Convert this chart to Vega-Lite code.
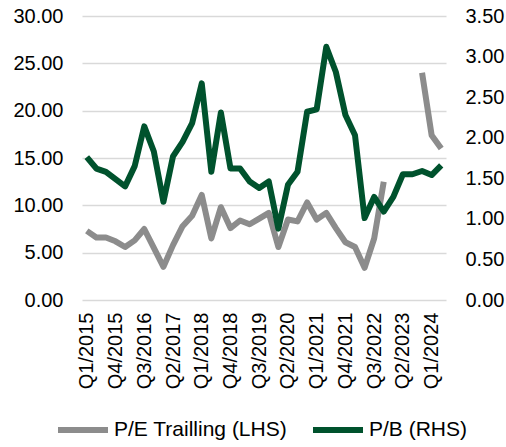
{
  "$schema": "https://vega.github.io/schema/vega-lite/v6.json",
  "width": 364,
  "height": 284,
  "autosize": {"type": "none"},
  "padding": {"left": 82, "top": 16, "right": 60, "bottom": 147},
  "background": "white",
  "config": {
    "view": {"stroke": null},
    "font": "Liberation Sans",
    "axis": {"labelFont": "Liberation Sans", "labelFontSize": 20, "labelColor": "#000000", "ticks": false, "tickSize": 0, "domain": false}
  },
  "data": {
    "values": [
      {"q": "Q1/2015", "pe": 7.3, "pb": 1.76},
      {"q": "Q2/2015", "pe": 6.6, "pb": 1.62},
      {"q": "Q3/2015", "pe": 6.6, "pb": 1.58},
      {"q": "Q4/2015", "pe": 6.2, "pb": 1.49},
      {"q": "Q1/2016", "pe": 5.6, "pb": 1.40},
      {"q": "Q2/2016", "pe": 6.3, "pb": 1.65},
      {"q": "Q3/2016", "pe": 7.5, "pb": 2.14},
      {"q": "Q4/2016", "pe": 5.5, "pb": 1.83},
      {"q": "Q1/2017", "pe": 3.5, "pb": 1.21},
      {"q": "Q2/2017", "pe": 5.8, "pb": 1.77},
      {"q": "Q3/2017", "pe": 7.8, "pb": 1.95},
      {"q": "Q4/2017", "pe": 8.9, "pb": 2.18},
      {"q": "Q1/2018", "pe": 11.1, "pb": 2.67},
      {"q": "Q2/2018", "pe": 6.5, "pb": 1.58},
      {"q": "Q3/2018", "pe": 9.8, "pb": 2.31},
      {"q": "Q4/2018", "pe": 7.6, "pb": 1.62},
      {"q": "Q1/2019", "pe": 8.4, "pb": 1.62},
      {"q": "Q2/2019", "pe": 8.0, "pb": 1.46},
      {"q": "Q3/2019", "pe": 8.6, "pb": 1.38},
      {"q": "Q4/2019", "pe": 9.2, "pb": 1.46},
      {"q": "Q1/2020", "pe": 5.6, "pb": 0.88},
      {"q": "Q2/2020", "pe": 8.5, "pb": 1.42},
      {"q": "Q3/2020", "pe": 8.3, "pb": 1.58},
      {"q": "Q4/2020", "pe": 10.3, "pb": 2.32},
      {"q": "Q1/2021", "pe": 8.5, "pb": 2.35},
      {"q": "Q2/2021", "pe": 9.2, "pb": 3.12},
      {"q": "Q3/2021", "pe": 7.6, "pb": 2.81},
      {"q": "Q4/2021", "pe": 6.1, "pb": 2.28},
      {"q": "Q1/2022", "pe": 5.6, "pb": 2.03},
      {"q": "Q2/2022", "pe": 3.4, "pb": 1.01},
      {"q": "Q3/2022", "pe": 6.5, "pb": 1.27},
      {"q": "Q4/2022", "pe": 12.5, "pb": 1.09},
      {"q": "Q1/2023", "pe": null, "pb": 1.27},
      {"q": "Q2/2023", "pe": null, "pb": 1.55},
      {"q": "Q3/2023", "pe": null, "pb": 1.55},
      {"q": "Q4/2023", "pe": 24.0, "pb": 1.59},
      {"q": "Q1/2024", "pe": 17.4, "pb": 1.54},
      {"q": "Q2/2024", "pe": 16.0, "pb": 1.66}
    ]
  },
  "encoding": {
    "x": {
      "field": "q",
      "type": "ordinal",
      "sort": null,
      "scale": {"type": "point", "padding": 0.5},
      "axis": {
        "title": null,
        "values": ["Q1/2015", "Q4/2015", "Q3/2016", "Q2/2017", "Q1/2018", "Q4/2018", "Q3/2019", "Q2/2020", "Q1/2021", "Q4/2021", "Q3/2022", "Q2/2023", "Q1/2024"],
        "labelAngle": 270,
        "labelPadding": 12,
        "grid": false
      }
    }
  },
  "layer": [
    {
      "transform": [{"calculate": "'P/E Trailling (LHS)'", "as": "series"}],
      "mark": {"type": "line", "strokeWidth": 6, "strokeJoin": "round", "strokeCap": "butt", "invalid": "break-paths-filter-domains"},
      "encoding": {
        "y": {
          "field": "pe",
          "type": "quantitative",
          "scale": {"domain": [0, 30], "nice": false, "zero": true},
          "axis": {"title": null, "values": [0, 5, 10, 15, 20, 25, 30], "format": ".2f", "labelPadding": 19, "grid": true, "gridColor": "#d9d9d9", "gridWidth": 1.5, "orient": "left"}
        },
        "color": {
          "field": "series",
          "type": "nominal",
          "scale": {"domain": ["P/E Trailling (LHS)", "P/B (RHS)"], "range": ["#8c8c8c", "#00522d"]},
          "legend": {
            "title": null,
            "orient": "none",
            "legendX": -27,
            "legendY": 386,
            "direction": "horizontal",
            "symbolType": "stroke",
            "symbolSize": 2500,
            "symbolStrokeWidth": 6,
            "labelFont": "Liberation Sans",
            "labelFontSize": 21,
            "labelColor": "#000000",
            "labelOffset": 3,
            "columnPadding": 13,
            "padding": 0,
            "labelLimit": 400
          }
        }
      }
    },
    {
      "transform": [{"calculate": "'P/B (RHS)'", "as": "series"}],
      "mark": {"type": "line", "strokeWidth": 6, "strokeJoin": "round", "strokeCap": "butt"},
      "encoding": {
        "y": {
          "field": "pb",
          "type": "quantitative",
          "scale": {"domain": [0, 3.5], "nice": false, "zero": true},
          "axis": {"title": null, "values": [0, 0.5, 1, 1.5, 2, 2.5, 3, 3.5], "format": ".2f", "labelPadding": 19, "grid": false, "orient": "right"}
        },
        "color": {"field": "series", "type": "nominal"}
      }
    }
  ],
  "resolve": {"scale": {"y": "independent"}}
}
